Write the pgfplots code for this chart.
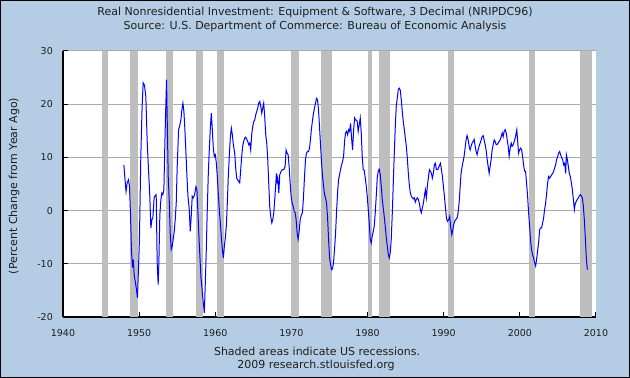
\documentclass[border=0pt]{standalone}
\usepackage{fontspec}
\setmainfont{DejaVu Sans}
\usepackage{pgfplots}
\usepackage{pgfplotstable}
\pgfplotsset{compat=1.18}
\definecolor{bgblue}{RGB}{180,205,228}
\definecolor{recgray}{RGB}{190,190,190}
\definecolor{gridgray}{RGB}{170,170,170}
\definecolor{txt}{RGB}{30,30,30}
\pgfplotstableread{
x y
1948.00 8.6
1948.10 6.6
1948.28 3.6
1948.42 5.2
1948.60 5.8
1948.73 4.6
1948.86 -0.4
1948.99 -7.3
1949.12 -10.7
1949.25 -9.2
1949.34 -12.0
1949.52 -13.6
1949.65 -14.8
1949.78 -16.4
1949.91 -11.0
1950.04 -5.4
1950.22 10.2
1950.39 19.6
1950.53 24.0
1950.70 23.6
1950.88 21.4
1951.05 13.3
1951.23 7.7
1951.40 2.7
1951.54 -3.3
1951.67 -1.7
1951.80 -1.4
1951.97 2.4
1952.11 2.8
1952.24 3.0
1952.37 -9.8
1952.50 -13.9
1952.59 -9.8
1952.72 -0.8
1952.85 2.0
1952.98 3.3
1953.11 3.0
1953.25 3.9
1953.38 12.7
1953.51 20.2
1953.60 24.6
1953.68 17.7
1953.82 6.4
1953.95 2.0
1954.08 -4.2
1954.21 -7.3
1954.34 -6.7
1954.47 -5.4
1954.61 -3.9
1954.74 -1.7
1954.87 1.4
1955.00 8.3
1955.18 15.2
1955.35 16.1
1955.48 17.0
1955.61 18.9
1955.75 20.2
1955.88 18.6
1956.01 15.2
1956.14 11.1
1956.27 6.7
1956.40 3.0
1956.58 0.2
1956.71 -3.9
1956.84 -1.1
1956.97 2.7
1957.10 2.4
1957.28 3.0
1957.46 4.5
1957.59 3.9
1957.72 -0.4
1957.85 -4.8
1957.98 -8.6
1958.12 -12.6
1958.25 -14.5
1958.38 -16.7
1958.56 -19.2
1958.69 -13.6
1958.82 -7.3
1958.95 0.2
1959.08 6.75
1959.21 11.4
1959.35 15.5
1959.48 18.3
1959.61 15.2
1959.74 11.75
1959.87 10.2
1960.00 10.5
1960.14 8.9
1960.27 6.4
1960.40 3.0
1960.53 0.2
1960.66 -2.3
1960.79 -4.8
1960.93 -7.3
1961.06 -8.9
1961.19 -6.7
1961.32 -5.1
1961.45 -2.9
1961.58 1.4
1961.71 6.4
1961.85 10.5
1961.98 13.9
1962.11 15.5
1962.24 14.25
1962.37 12.4
1962.55 10.8
1962.68 8.0
1962.81 6.1
1962.94 5.8
1963.07 5.5
1963.21 5.2
1963.34 7.7
1963.47 10.2
1963.60 12.1
1963.73 13.0
1963.86 13.6
1964.00 13.8
1964.13 13.4
1964.26 13.0
1964.39 12.4
1964.52 12.7
1964.65 11.4
1964.78 14.25
1964.92 15.8
1965.05 16.75
1965.18 17.0
1965.31 18.0
1965.44 18.6
1965.57 19.25
1965.71 20.2
1965.84 20.5
1965.97 19.6
1966.10 18.3
1966.23 19.25
1966.36 20.2
1966.49 17.7
1966.63 14.25
1966.76 12.7
1966.89 9.6
1967.02 5.2
1967.15 0.8
1967.28 -1.1
1967.42 -2.3
1967.55 -1.7
1967.68 -0.4
1967.81 2.1
1967.94 4.9
1968.03 7.0
1968.12 5.5
1968.21 6.1
1968.34 3.3
1968.47 6.75
1968.65 7.4
1968.82 7.7
1969.00 7.7
1969.17 8.3
1969.30 11.4
1969.44 10.8
1969.57 10.5
1969.70 8.3
1969.83 5.2
1969.96 2.7
1970.10 1.4
1970.23 0.8
1970.36 -0.1
1970.49 -0.4
1970.62 -1.7
1970.75 -4.2
1970.88 -5.4
1971.02 -3.9
1971.15 -1.7
1971.32 -0.75
1971.45 -0.4
1971.59 2.7
1971.72 6.4
1971.85 9.6
1971.98 10.8
1972.11 11.1
1972.24 11.1
1972.38 11.75
1972.51 13.6
1972.64 15.5
1972.77 17.0
1972.90 18.3
1973.03 19.25
1973.16 20.2
1973.30 21.1
1973.43 20.8
1973.56 18.9
1973.69 15.8
1973.82 12.4
1973.96 8.9
1974.09 6.4
1974.22 4.6
1974.35 3.0
1974.48 2.4
1974.61 1.4
1974.74 -1.1
1974.88 -5.4
1975.01 -8.9
1975.14 -10.1
1975.27 -11.1
1975.40 -10.9
1975.53 -9.8
1975.66 -7.3
1975.80 -4.2
1975.93 -0.1
1976.06 3.3
1976.19 5.8
1976.32 6.75
1976.45 7.7
1976.59 8.6
1976.72 9.25
1976.85 10.2
1976.98 13.0
1977.11 14.6
1977.24 14.9
1977.38 14.25
1977.51 15.2
1977.64 14.9
1977.77 16.4
1977.90 13.6
1978.03 11.4
1978.17 15.2
1978.30 17.4
1978.43 17.0
1978.55 17.0
1978.64 16.75
1978.77 14.9
1978.90 16.1
1979.04 17.4
1979.17 14.6
1979.30 10.2
1979.43 7.7
1979.56 7.6
1979.70 6.1
1979.83 4.6
1979.96 2.7
1980.09 0.2
1980.22 -2.3
1980.35 -5.4
1980.48 -6.1
1980.61 -4.8
1980.75 -3.9
1980.88 -2.9
1981.01 -0.4
1981.14 2.7
1981.27 6.1
1981.40 7.4
1981.53 7.8
1981.67 6.75
1981.80 4.6
1981.93 2.1
1982.06 0.5
1982.19 -1.1
1982.32 -2.9
1982.46 -5.1
1982.59 -6.7
1982.72 -8.25
1982.85 -8.9
1982.98 -7.9
1983.11 -5.4
1983.25 -0.4
1983.38 5.2
1983.51 10.8
1983.64 15.8
1983.77 19.6
1983.90 21.1
1984.04 22.8
1984.17 23.0
1984.30 22.6
1984.43 20.8
1984.56 18.6
1984.69 16.75
1984.83 15.2
1984.96 13.6
1985.09 12.1
1985.22 9.9
1985.35 7.1
1985.48 4.9
1985.62 3.3
1985.75 2.7
1985.88 2.4
1986.01 2.2
1986.14 2.4
1986.27 1.6
1986.40 2.1
1986.54 2.4
1986.67 2.1
1986.80 1.4
1986.93 0.2
1987.06 -0.4
1987.19 0.5
1987.33 1.4
1987.46 2.7
1987.59 3.9
1987.72 2.4
1987.85 4.6
1987.98 6.1
1988.12 7.7
1988.25 7.4
1988.38 7.0
1988.51 6.1
1988.64 7.0
1988.77 8.6
1988.90 8.9
1989.04 7.7
1989.21 7.7
1989.39 8.3
1989.57 8.9
1989.70 7.7
1989.83 6.4
1989.96 4.6
1990.09 2.7
1990.22 0.8
1990.36 -1.4
1990.49 -2.0
1990.66 -1.7
1990.79 -1.1
1990.93 -3.25
1991.06 -4.5
1991.19 -3.6
1991.32 -2.6
1991.45 -2.0
1991.58 -1.7
1991.76 -1.4
1991.89 -0.4
1992.02 1.4
1992.15 4.25
1992.28 7.0
1992.42 8.3
1992.55 9.25
1992.68 10.2
1992.81 11.75
1992.94 13.3
1993.07 14.1
1993.21 13.3
1993.34 12.1
1993.47 11.4
1993.60 12.1
1993.73 12.7
1993.86 13.0
1994.00 13.4
1994.13 12.1
1994.26 11.1
1994.39 10.5
1994.52 11.4
1994.65 12.1
1994.79 12.7
1994.92 13.3
1995.05 13.9
1995.18 14.1
1995.31 13.3
1995.44 12.4
1995.57 11.4
1995.71 9.6
1995.84 8.3
1995.97 7.0
1996.10 8.3
1996.23 9.6
1996.36 11.4
1996.50 12.4
1996.63 13.3
1996.76 13.0
1996.89 12.4
1997.02 12.4
1997.15 12.7
1997.28 13.0
1997.42 13.3
1997.55 13.9
1997.68 14.6
1997.81 13.9
1997.94 14.9
1998.07 15.2
1998.21 14.6
1998.34 13.3
1998.47 12.1
1998.60 10.2
1998.73 11.75
1998.86 12.7
1998.99 12.1
1999.13 12.4
1999.26 13.0
1999.39 13.6
1999.52 14.6
1999.60 15.2
1999.70 13.3
1999.83 10.8
1999.96 11.4
2000.10 11.75
2000.23 11.4
2000.36 10.2
2000.49 8.6
2000.62 7.4
2000.75 7.4
2000.88 5.2
2001.02 2.7
2001.15 -0.4
2001.28 -2.9
2001.41 -5.75
2001.54 -7.3
2001.67 -8.25
2001.81 -8.9
2001.94 -9.8
2002.07 -10.4
2002.20 -9.2
2002.33 -7.6
2002.46 -6.1
2002.60 -3.6
2002.73 -3.25
2002.86 -3.25
2002.99 -2.3
2003.12 -1.4
2003.25 0.2
2003.39 1.4
2003.52 3.3
2003.65 5.2
2003.78 6.4
2003.91 6.1
2004.04 6.4
2004.18 6.75
2004.31 7.0
2004.44 7.4
2004.57 8.0
2004.70 8.6
2004.83 9.6
2004.97 10.2
2005.10 10.8
2005.23 11.1
2005.36 10.5
2005.49 9.9
2005.62 9.6
2005.76 8.6
2005.89 8.9
2006.02 7.0
2006.11 10.5
2006.24 9.6
2006.37 8.3
2006.50 7.0
2006.63 6.4
2006.77 5.2
2006.90 3.9
2007.03 2.1
2007.16 0.2
2007.29 1.4
2007.42 1.75
2007.55 2.1
2007.68 2.4
2007.81 2.8
2007.95 3.0
2008.08 2.7
2008.21 2.4
2008.34 0.8
2008.47 -1.7
2008.60 -5.1
2008.74 -9.2
2008.87 -11.1
}\nripdc
\newcommand{\rec}[2]{\addplot[fill=recgray, draw=none, forget plot] coordinates {(#1,-20) (#1,30) (#2,30) (#2,-20)} -- cycle;}
\begin{document}
\begin{tikzpicture}
\fill[bgblue] (0pt,0pt) rectangle (630pt,378pt);
\draw[black, line width=1pt] (0.5pt,0.5pt) rectangle (629.5pt,377.5pt);
\tikzset{lbl/.style={font=\fontsize{11}{13}\selectfont, text=txt, inner sep=0pt}}
\node[lbl] at (315pt,366pt) {Real Nonresidential Investment: Equipment \& Software, 3 Decimal (NRIPDC96)};
\node[lbl] at (315pt,352pt) {Source: U.S. Department of Commerce: Bureau of Economic Analysis};
\node[lbl] at (317pt,26.3pt) {Shaded areas indicate US recessions.};
\node[lbl] at (316pt,13pt) {2009 research.stlouisfed.org};
\node[lbl, rotate=90] at (14pt,192pt) {(Percent Change from Year Ago)};
\begin{axis}[
  at={(63pt,61pt)}, anchor=south west, scale only axis,
  width=533pt, height=266pt,
  xmin=1940, xmax=2010, ymin=-20, ymax=30,
  axis x line*=bottom, axis y line*=left,
  axis line style={black, line width=1.2pt, -},
  axis background/.style={fill=white},
  xtick={1940,1950,1960,1970,1980,1990,2000,2010},
  xticklabels={1940,1950,1960,1970,1980,1990,2000,2010},
  ytick={-20,-10,0,10,20,30},
  yticklabels={-20,-10,0,10,20,30},
  ymajorgrids, grid style={gridgray, line width=1pt},
  tick style={black, line width=1pt},
  major tick length=5pt, tick align=inside,
  ticklabel style={font=\fontsize{9.5}{11}\selectfont, text=txt, inner sep=0pt},
  xticklabel style={anchor=center, yshift=-16pt},
  yticklabel style={anchor=east, xshift=-10pt},
]
\rec{1945.10}{1945.90}
\rec{1948.80}{1949.83}
\rec{1953.50}{1954.40}
\rec{1957.50}{1958.35}
\rec{1960.20}{1961.20}
\rec{1969.95}{1970.95}
\rec{1973.90}{1975.30}
\rec{1980.05}{1980.60}
\rec{1981.50}{1982.95}
\rec{1990.50}{1991.40}
\rec{2001.25}{2002.05}
\rec{2007.95}{2009.45}
\addplot[blue, line width=1pt, mark=none] table[x=x, y=y] {\nripdc};
\end{axis}
\end{tikzpicture}
\end{document}
